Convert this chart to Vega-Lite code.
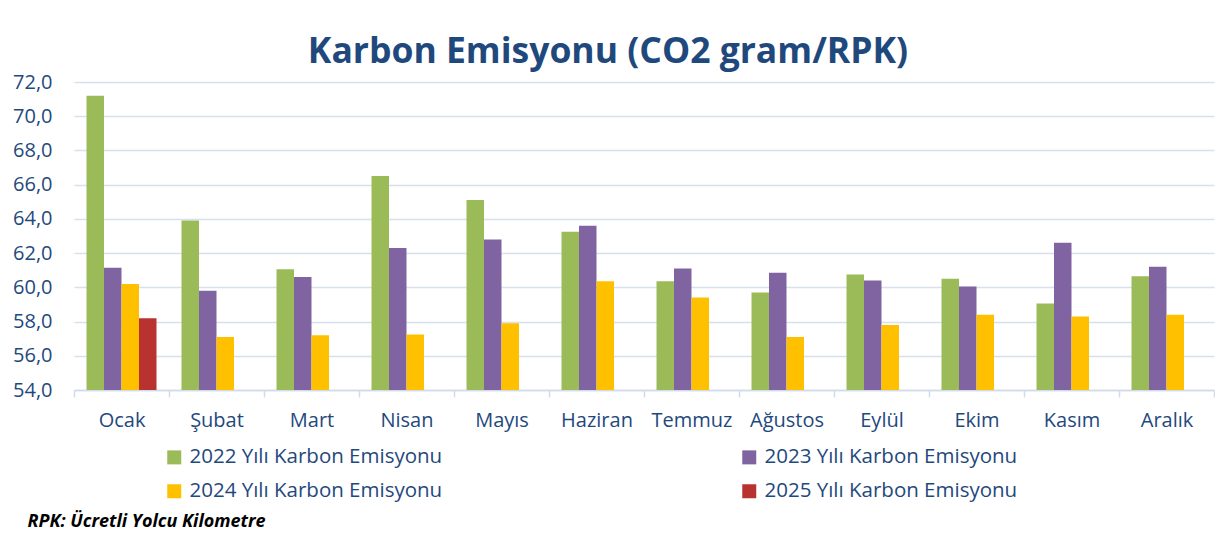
{
  "$schema": "https://vega.github.io/schema/vega-lite/v6.json",
  "width": 1140,
  "height": 308,
  "autosize": {"type": "none"},
  "padding": {"left": 74, "top": 82, "right": 1, "bottom": 143},
  "background": "white",
  "title": {
    "text": "Karbon Emisyonu (CO2 gram/RPK)",
    "font": "Open Sans",
    "fontSize": 35.5,
    "fontWeight": "bold",
    "color": "#1F497D",
    "anchor": "middle",
    "frame": "group",
    "dx": -36,
    "dy": 4,
    "offset": 6
  },
  "data": {
    "values": [
      {"month": "Ocak", "year": "2022 Yılı Karbon Emisyonu", "value": 71.2},
      {"month": "Ocak", "year": "2023 Yılı Karbon Emisyonu", "value": 61.15},
      {"month": "Ocak", "year": "2024 Yılı Karbon Emisyonu", "value": 60.2},
      {"month": "Ocak", "year": "2025 Yılı Karbon Emisyonu", "value": 58.2},
      {"month": "Şubat", "year": "2022 Yılı Karbon Emisyonu", "value": 63.9},
      {"month": "Şubat", "year": "2023 Yılı Karbon Emisyonu", "value": 59.8},
      {"month": "Şubat", "year": "2024 Yılı Karbon Emisyonu", "value": 57.1},
      {"month": "Mart", "year": "2022 Yılı Karbon Emisyonu", "value": 61.05},
      {"month": "Mart", "year": "2023 Yılı Karbon Emisyonu", "value": 60.6},
      {"month": "Mart", "year": "2024 Yılı Karbon Emisyonu", "value": 57.2},
      {"month": "Nisan", "year": "2022 Yılı Karbon Emisyonu", "value": 66.5},
      {"month": "Nisan", "year": "2023 Yılı Karbon Emisyonu", "value": 62.3},
      {"month": "Nisan", "year": "2024 Yılı Karbon Emisyonu", "value": 57.25},
      {"month": "Mayıs", "year": "2022 Yılı Karbon Emisyonu", "value": 65.1},
      {"month": "Mayıs", "year": "2023 Yılı Karbon Emisyonu", "value": 62.8},
      {"month": "Mayıs", "year": "2024 Yılı Karbon Emisyonu", "value": 57.9},
      {"month": "Haziran", "year": "2022 Yılı Karbon Emisyonu", "value": 63.25},
      {"month": "Haziran", "year": "2023 Yılı Karbon Emisyonu", "value": 63.6},
      {"month": "Haziran", "year": "2024 Yılı Karbon Emisyonu", "value": 60.35},
      {"month": "Temmuz", "year": "2022 Yılı Karbon Emisyonu", "value": 60.35},
      {"month": "Temmuz", "year": "2023 Yılı Karbon Emisyonu", "value": 61.1},
      {"month": "Temmuz", "year": "2024 Yılı Karbon Emisyonu", "value": 59.4},
      {"month": "Ağustos", "year": "2022 Yılı Karbon Emisyonu", "value": 59.7},
      {"month": "Ağustos", "year": "2023 Yılı Karbon Emisyonu", "value": 60.85},
      {"month": "Ağustos", "year": "2024 Yılı Karbon Emisyonu", "value": 57.1},
      {"month": "Eylül", "year": "2022 Yılı Karbon Emisyonu", "value": 60.75},
      {"month": "Eylül", "year": "2023 Yılı Karbon Emisyonu", "value": 60.4},
      {"month": "Eylül", "year": "2024 Yılı Karbon Emisyonu", "value": 57.8},
      {"month": "Ekim", "year": "2022 Yılı Karbon Emisyonu", "value": 60.5},
      {"month": "Ekim", "year": "2023 Yılı Karbon Emisyonu", "value": 60.05},
      {"month": "Ekim", "year": "2024 Yılı Karbon Emisyonu", "value": 58.4},
      {"month": "Kasım", "year": "2022 Yılı Karbon Emisyonu", "value": 59.05},
      {"month": "Kasım", "year": "2023 Yılı Karbon Emisyonu", "value": 62.6},
      {"month": "Kasım", "year": "2024 Yılı Karbon Emisyonu", "value": 58.3},
      {"month": "Aralık", "year": "2022 Yılı Karbon Emisyonu", "value": 60.65},
      {"month": "Aralık", "year": "2023 Yılı Karbon Emisyonu", "value": 61.2},
      {"month": "Aralık", "year": "2024 Yılı Karbon Emisyonu", "value": 58.4}
    ]
  },
  "mark": {"type": "bar", "clip": true},
  "encoding": {
    "x": {
      "field": "month",
      "type": "nominal",
      "sort": ["Ocak", "Şubat", "Mart", "Nisan", "Mayıs", "Haziran", "Temmuz", "Ağustos", "Eylül", "Ekim", "Kasım", "Aralık"],
      "scale": {"paddingInner": 0, "paddingOuter": 0},
      "axis": {
        "title": "RPK: Ücretli Yolcu Kilometre",
        "titleFont": "Open Sans",
        "titleFontSize": 18,
        "titleFontWeight": "bold",
        "titleFontStyle": "italic",
        "titleColor": "#000000",
        "titleAnchor": "start",
        "titleAlign": "left",
        "titleBaseline": "middle",
        "titleX": -47,
        "titleY": 131,
        "labelAngle": 0,
        "labelFont": "Open Sans",
        "labelFontSize": 20,
        "labelColor": "#1F497D",
        "labelPadding": 13,
        "tickBand": "extent",
        "ticks": true,
        "tickSize": 7,
        "tickColor": "#D0DCEC",
        "tickWidth": 1.5,
        "domainColor": "#D0DCEC",
        "domainWidth": 1.5,
        "grid": false
      }
    },
    "xOffset": {
      "field": "year",
      "type": "nominal",
      "scale": {
        "domain": ["2022 Yılı Karbon Emisyonu", "2023 Yılı Karbon Emisyonu", "2024 Yılı Karbon Emisyonu", "2025 Yılı Karbon Emisyonu"],
        "paddingInner": 0,
        "paddingOuter": 0.714
      }
    },
    "y": {
      "field": "value",
      "type": "quantitative",
      "scale": {"domain": [54, 72], "nice": false, "zero": false},
      "axis": {
        "title": null,
        "values": [54, 56, 58, 60, 62, 64, 66, 68, 70, 72],
        "labelExpr": "replace(format(datum.value, '.1f'), '.', ',')",
        "labelFont": "Open Sans",
        "labelFontSize": 20,
        "labelColor": "#1F497D",
        "labelPadding": 22,
        "ticks": false,
        "domain": false,
        "grid": true,
        "gridColor": "#D6E0EE",
        "gridWidth": 1.5
      }
    },
    "color": {
      "field": "year",
      "type": "nominal",
      "scale": {
        "domain": ["2022 Yılı Karbon Emisyonu", "2023 Yılı Karbon Emisyonu", "2024 Yılı Karbon Emisyonu", "2025 Yılı Karbon Emisyonu"],
        "range": ["#9BBB59", "#8064A2", "#FFC000", "#B83330"]
      },
      "legend": {
        "title": null,
        "orient": "none",
        "legendX": 90,
        "legendY": 365,
        "columns": 2,
        "direction": "horizontal",
        "columnPadding": 296,
        "rowPadding": 13,
        "symbolType": "square",
        "symbolSize": 196,
        "symbolStrokeWidth": 0,
        "symbolOpacity": 1,
        "labelFont": "Open Sans",
        "labelFontSize": 20.5,
        "labelColor": "#1F497D",
        "labelOffset": 5,
        "labelLimit": 400
      }
    }
  },
  "config": {
    "view": {"stroke": null}
  }
}
